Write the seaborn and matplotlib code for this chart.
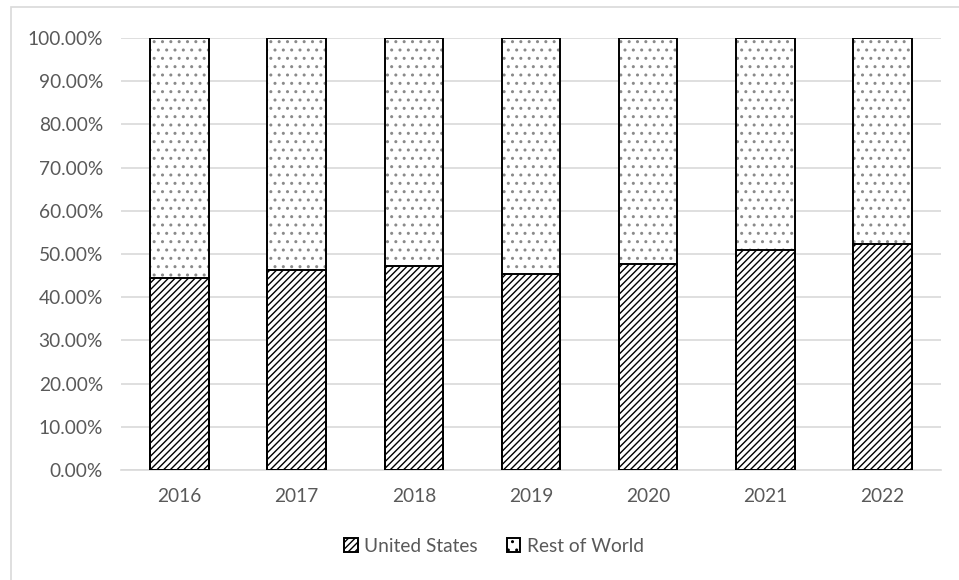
import matplotlib
matplotlib.use("Agg")
import matplotlib.pyplot as plt
from matplotlib.patches import Patch, Rectangle
from matplotlib.ticker import FuncFormatter, MultipleLocator
import numpy as np
import pandas as pd
import seaborn as sns

# Share of the total by year (percent)
years = ["2016", "2017", "2018", "2019", "2020", "2021", "2022"]
us_share = [44.4, 46.3, 47.2, 45.4, 47.7, 50.9, 52.2]
row_share = [55.6, 53.7, 52.8, 54.6, 52.3, 49.1, 47.8]

sns.set_theme(style="white")
plt.rcParams["font.family"] = ["Lato", "DejaVu Sans"]
plt.rcParams["hatch.linewidth"] = 1.0

TEXT = "#595959"
GRID = "#d9d9d9"
FS = 13.8

df = pd.DataFrame({
    "year": years,
    "us": us_share,
    "row": row_share,
})
df["total"] = df["us"] + df["row"]

W, H, DPI = 959, 580, 100
fig = plt.figure(figsize=(W / DPI, H / DPI), dpi=DPI)
ax = fig.add_axes([121 / W, 1 - 470 / H, 820 / W, 432 / H])

# Chart-area frame
fig.patches.append(Rectangle((11 / W, -0.1), 1.2, 1 - 7 / H + 0.1,
                             transform=fig.transFigure, fill=False,
                             edgecolor=GRID, linewidth=1.2, zorder=0))

# Rest of World: full stack height, dotted fill
sns.barplot(data=df, x="year", y="total", ax=ax, width=0.5,
            color="white", edgecolor="#8a8a8a", hatch="..", linewidth=0,
            saturation=1, zorder=2)
# Outline of the full stack
sns.barplot(data=df, x="year", y="total", ax=ax, width=0.5,
            fill=False, edgecolor="black", linewidth=1.4, zorder=4)
# United States: lower segment, diagonal hatch
sns.barplot(data=df, x="year", y="us", ax=ax, width=0.5,
            color="white", edgecolor="black", hatch="/////", linewidth=1.4,
            saturation=1, zorder=3)

ax.set_ylim(0, 100)
ax.set_xlim(-0.5, len(years) - 0.5)
ax.yaxis.set_major_locator(MultipleLocator(10))
ax.yaxis.set_major_formatter(FuncFormatter(lambda v, _: f"{v:.2f}%"))
ax.grid(axis="y", color=GRID, linewidth=1.2, zorder=0)
ax.set_axisbelow(True)
for s in ["top", "right", "left"]:
    ax.spines[s].set_visible(False)
ax.spines["bottom"].set_color(GRID)
ax.spines["bottom"].set_linewidth(1.2)
ax.set_xlabel("")
ax.set_ylabel("")
ax.tick_params(axis="both", length=0, labelsize=FS, colors=TEXT)
ax.tick_params(axis="y", pad=13)
ax.tick_params(axis="x", pad=13)

handles = [
    Patch(facecolor="white", edgecolor="black", hatch="/////", linewidth=1.4),
    Patch(facecolor="white", edgecolor="black", hatch="..", linewidth=1.4),
]
leg = fig.legend(handles, ["United States", "Rest of World"],
                 loc="center", bbox_to_anchor=(494 / W, 1 - 546 / H),
                 ncol=2, frameon=False, fontsize=FS,
                 handlelength=0.7, handleheight=0.7, handletextpad=0.35,
                 columnspacing=1.5, labelcolor=TEXT)

fig.savefig("out.png", dpi=DPI)
